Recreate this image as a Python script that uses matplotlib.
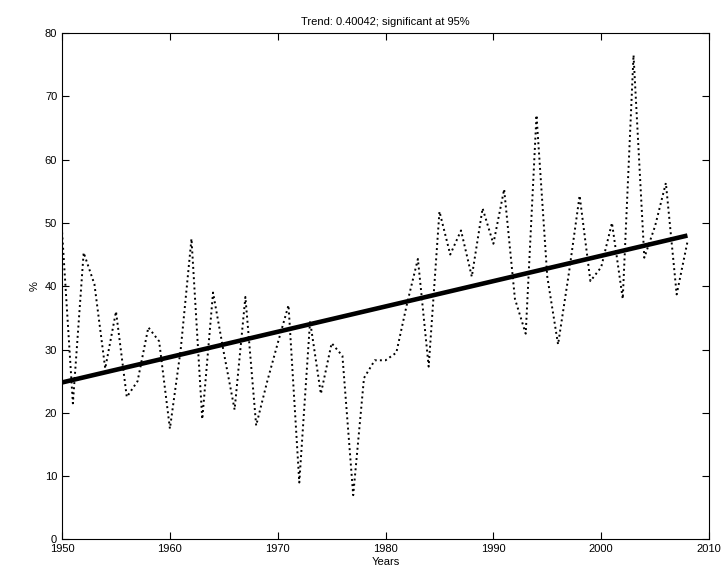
import numpy as np
import matplotlib
matplotlib.use('Agg')
import matplotlib.pyplot as plt

# serie anual (%)
years = np.arange(1950, 2009)
values = [48.5, 21.5, 45.3, 40.3, 27.0, 36.0, 22.5, 25.0, 33.5, 31.3,
          17.5, 30.0, 47.5, 19.0, 39.0, 29.5, 20.5, 38.3, 18.0, 24.8,
          31.0, 37.0, 9.0, 34.5, 23.0, 31.0, 29.0, 7.0, 25.5, 28.3,
          28.3, 29.5, 37.3, 44.3, 27.3, 51.8, 45.0, 48.8, 41.5, 52.3,
          46.7, 55.3, 38.0, 32.5, 67.0, 41.5, 30.8, 42.0, 54.3, 40.8,
          43.0, 50.0, 38.0, 76.5, 44.5, 49.5, 56.3, 38.7, 47.0]

# linea de tendencia (extremos)
trend_years = [1950, 2008]
trend_values = [24.8, 48.0]

title = 'Trend: 0.40042; significant at 95%'

plt.rcParams['font.family'] = ['Liberation Sans', 'DejaVu Sans']

fig = plt.figure(figsize=(7.22, 5.77), dpi=100)
ax = fig.add_axes([0.086, 0.065, 0.896, 0.878])

ax.plot(years, values, color='black', linestyle=':', linewidth=1.4)
ax.plot(trend_years, trend_values, color='black', linewidth=3.3, solid_capstyle='butt')

ax.set_xlim(1950, 2010)
ax.set_ylim(0, 80)
ax.set_xticks(np.arange(1950, 2011, 10))
ax.set_yticks(np.arange(0, 81, 10))
ax.tick_params(direction='in', top=True, right=True, labelsize=8, length=5, width=0.8)
for s in ax.spines.values():
    s.set_linewidth(0.8)

ax.set_title(title, fontsize=8, pad=6)
ax.set_xlabel('Years', fontsize=8, labelpad=2)
ax.set_ylabel('%', fontsize=8, labelpad=4)

fig.savefig('out.png', dpi=100)
